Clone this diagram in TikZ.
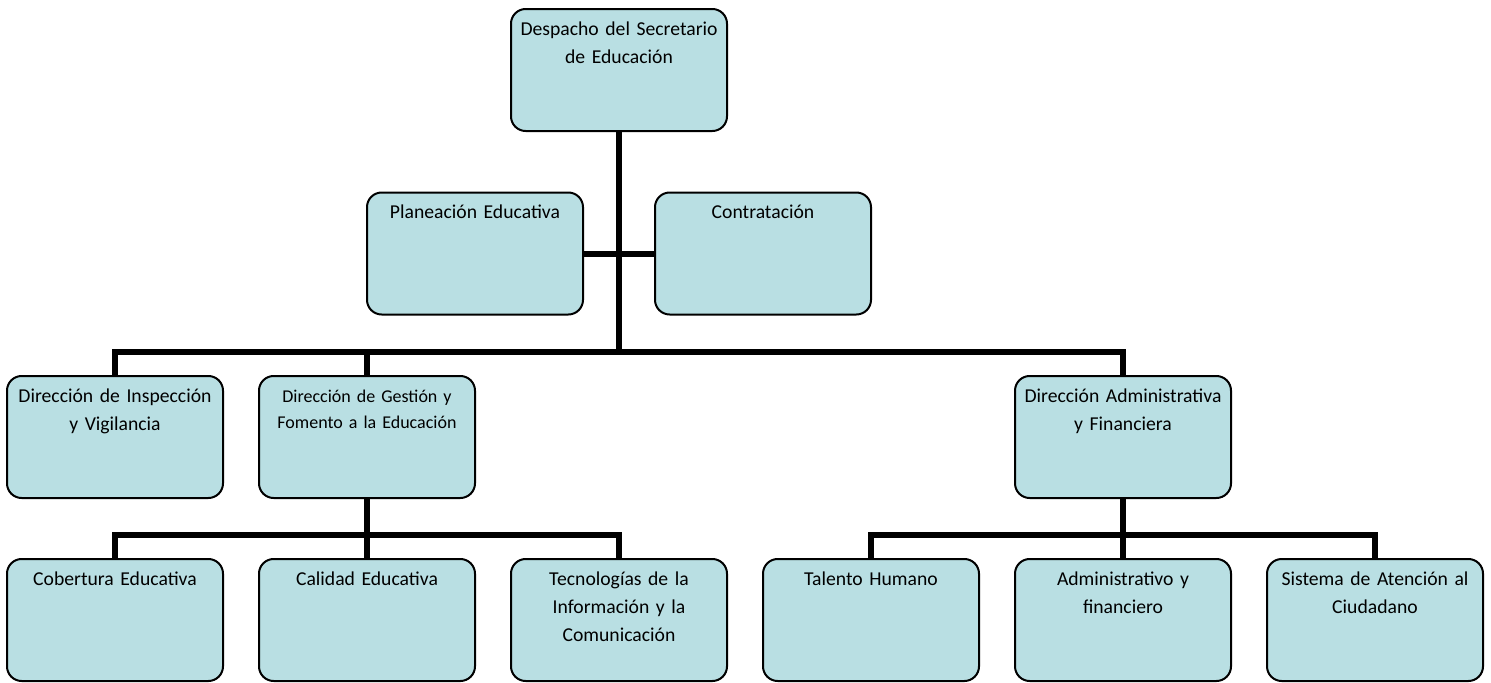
\documentclass[tikz,border=0pt]{standalone}
\usepackage{fontspec}
\setmainfont{Carlito}
\definecolor{boxfill}{RGB}{185,223,227}
\tikzset{
  unit/.style={draw=black, line width=1.5pt, fill=boxfill, rounded corners=11pt,
    minimum width=162pt, text width=156pt, align=center,
    inner xsep=3pt, inner ysep=4.5pt, text height=15pt, text depth=67.5pt,
    font=\fontsize{14.75}{21}\selectfont},
  link/.style={line width=4.5pt, line join=miter}
}
\begin{document}
\begin{tikzpicture}[x=0.75pt, y=-0.75pt]
  \useasboundingbox (0,0) rectangle (1491,682);

  % boxes
  \node[unit] (sec) at (619,70) {Despacho del Secretario\\de Educación};
  \node[unit] (plan) at (475,253.5) {Planeación Educativa};
  \node[unit] (cont) at (763,253.5) {Contratación};

  \node[unit] (insp) at (115,437) {Dirección de Inspección\\y Vigilancia};
  \node[unit, font=\fontsize{13.5}{19.5}\selectfont] (gest) at (367,437) {Dirección de Gestión y\\Fomento a la Educación};
  \node[unit] (admfin) at (1123,437) {Dirección Administrativa\\y Financiera};

  \node[unit] (cob) at (115,620) {Cobertura Educativa};
  \node[unit] (cal) at (367,620) {Calidad Educativa};
  \node[unit] (tec) at (619,620) {Tecnologías de la\\Información y la\\Comunicación};
  \node[unit] (tal) at (871,620) {Talento Humano};
  \node[unit] (adm) at (1123,620) {Administrativo y\\financiero};
  \node[unit] (sis) at (1375,620) {Sistema de Atención al\\Ciudadano};

  % bus lines
  \coordinate (bus1) at (619,352);
  \coordinate (bus2) at (367,535);
  \coordinate (bus3) at (1123,535);

  \draw[link] (sec.south) -- (bus1);
  \draw[link] (plan.east) -- (cont.west);
  \draw[link] (insp.north) |- (bus1) -| (admfin.north);
  \draw[link] (gest.north) -- (gest.north |- bus1);

  \draw[link] (gest.south) -- (bus2);
  \draw[link] (cob.north) |- (bus2) -| (tec.north);
  \draw[link] (cal.north) -- (bus2);

  \draw[link] (admfin.south) -- (bus3);
  \draw[link] (tal.north) |- (bus3) -| (sis.north);
  \draw[link] (adm.north) -- (bus3);
\end{tikzpicture}
\end{document}
